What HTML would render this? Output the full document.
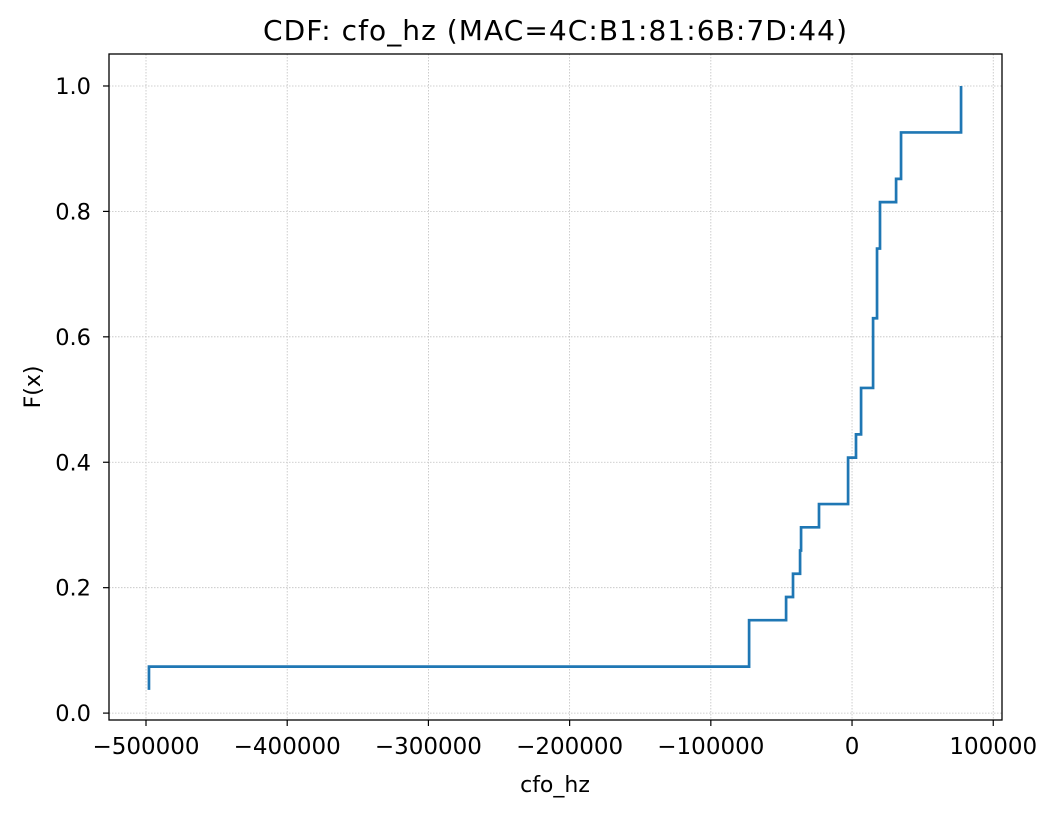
<!DOCTYPE html>
<html><head><meta charset="utf-8"><style>
body{margin:0;background:#fff;}
svg text{font-family:"DejaVu Sans","Liberation Sans",sans-serif;fill:#000;}
</style></head><body>
<svg id="chart" width="1058" height="815">
<text x="555" y="40" font-size="28" textLength="584" lengthAdjust="spacing" text-anchor="middle">CDF: cfo_hz (MAC=4C:B1:81:6B:7D:44)</text>
<g id="grid"></g><g id="ticks"></g><g id="series"></g>
<rect x="109" y="54" width="893" height="666" fill="none" stroke="#000" stroke-width="1.3"/>
<text x="555" y="792" font-size="22" text-anchor="middle">cfo_hz</text>
<text x="40" y="387" font-size="22" text-anchor="middle" transform="rotate(-90 40 387)">F(x)</text>
</svg>
<script>
const cfoValues=[-497900,-497900,-72900,-72900,-46700,-41800,-36800,-36100,-23400,-2800,-2800,2800,6400,6400,14900,14900,14900,17700,17700,17700,19800,19800,31200,34700,34700,77200,77200];
const cdfValues=[1/27,2/27,3/27,4/27,5/27,6/27,7/27,8/27,9/27,10/27,11/27,12/27,13/27,14/27,15/27,16/27,17/27,18/27,19/27,20/27,21/27,22/27,23/27,24/27,25/27,26/27,27/27];
const xTicks=[-500000,-400000,-300000,-200000,-100000,0,100000];
const xTickLabels=["\u2212500000","\u2212400000","\u2212300000","\u2212200000","\u2212100000","0","100000"];
const yTicks=[0,0.2,0.4,0.6,0.8,1.0];
const yTickLabels=["0.0","0.2","0.4","0.6","0.8","1.0"];
const NS="http://www.w3.org/2000/svg";
const L=109,R=1002,T=54,B=720,xmin=-526200,xmax=106200,ymin=-0.011,ymax=1.051;
const sx=v=>L+(v-xmin)/(xmax-xmin)*(R-L);
const sy=v=>B-(v-ymin)/(ymax-ymin)*(B-T);
function mk(tag,attrs,parent){const e=document.createElementNS(NS,tag);for(const k in attrs)e.setAttribute(k,attrs[k]);parent.appendChild(e);return e;}
const grid=document.getElementById('grid'),ticks=document.getElementById('ticks'),series=document.getElementById('series');
xTicks.forEach((v,i)=>{const x=sx(v);
 const g=mk('line',{x1:x,x2:x,y1:T,y2:B,stroke:'#c0c0c0','stroke-width':0.8,'stroke-dasharray':'1.5,1.5'},grid);
 
 
 const t=mk('line',{x1:x,x2:x,y1:B,y2:B+6,stroke:'#000','stroke-width':1.2},ticks);
 
 
 const lb=mk('text',{x:x,y:B+34,'font-size':23,'text-anchor':'middle'},ticks);lb.textContent=xTickLabels[i];
 
 
});
yTicks.forEach((v,i)=>{const y=sy(v);
 const g=mk('line',{x1:L,x2:R,y1:y,y2:y,stroke:'#c0c0c0','stroke-width':0.8,'stroke-dasharray':'1.5,1.5'},grid);
 
 
 const t=mk('line',{x1:L-6,x2:L,y1:y,y2:y,stroke:'#000','stroke-width':1.2},ticks);
 
 
 const lb=mk('text',{x:L-18,y:y+8,'font-size':22.5,'text-anchor':'end'},ticks);lb.textContent=yTickLabels[i];
 
 
});
let d='';
cfoValues.forEach((v,i)=>{const x=sx(v),y=sy(cdfValues[i]);
 if(i===0)d+='M'+x+','+y;else d+='H'+x+'V'+y;});
const p=mk('path',{d:d,fill:'none',stroke:'#1f77b4','stroke-width':2.7},series);


</script>
</body></html>
